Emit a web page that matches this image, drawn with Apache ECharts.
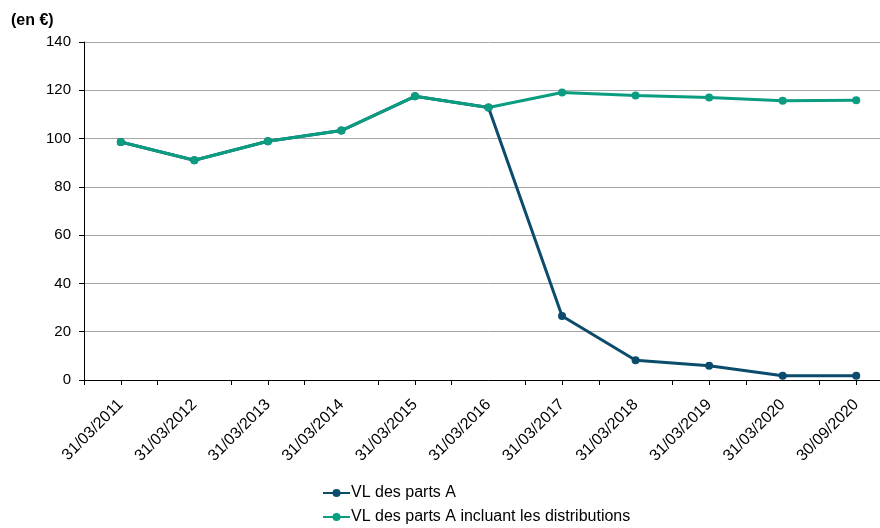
<!DOCTYPE html>
<html>
<head>
<meta charset="utf-8">
<script src="https://cdn.jsdelivr.net/npm/echarts@6/dist/echarts.min.js"></script>
<style>html,body{margin:0;padding:0;background:#fff;overflow:hidden}#c{width:893px;height:528px}</style>
</head>
<body>
<div id="c"></div>
<script>
const categories = ['31/03/2011','31/03/2012','31/03/2013','31/03/2014','31/03/2015','31/03/2016','31/03/2017','31/03/2018','31/03/2019','31/03/2020','30/09/2020'];
const vlA = [98.6, 91.0, 98.9, 103.3, 117.5, 112.9, 26.5, 8.2, 5.9, 1.8, 1.8];
const vlAdist = [98.6, 91.0, 98.9, 103.3, 117.5, 112.9, 119.1, 117.8, 117.0, 115.7, 115.9];
const yTicks = [0, 20, 40, 60, 80, 100, 120, 140];
const seriesNames = ['VL des parts A', 'VL des parts A incluant les distributions'];
const unitLabel = '(en €)';

const font = 'Liberation Sans, Arial, sans-serif';
const chart = echarts.init(document.getElementById('c'));
chart.setOption({
  animation: false,
  textStyle: { fontFamily: font },
  title: { text: unitLabel, left: 6, top: 8, textStyle: { fontFamily: font, fontSize: 16, fontWeight: 'bold', color: '#000' } },
  grid: { left: 84, right: 0, top: 42, bottom: 148, containLabel: false },
  xAxis: [{
    type: 'category', data: categories, boundaryGap: true,
    axisLine: { lineStyle: { color: '#000', width: 1 } },
    axisTick: { show: true, alignWithLabel: false, length: 5, lineStyle: { color: '#000' } },
    axisLabel: { rotate: 45, interval: 0, margin: 22, fontSize: 16, color: '#000', fontFamily: font },
    splitLine: { show: false }
  }, {
    type: 'category', data: categories, boundaryGap: true, position: 'bottom',
    axisLine: { show: false },
    axisTick: { show: true, alignWithLabel: true, length: 5, lineStyle: { color: '#000' } },
    axisLabel: { show: false },
    splitLine: { show: false }
  }],
  yAxis: {
    type: 'value', min: yTicks[0], max: yTicks[yTicks.length - 1], interval: 20,
    axisLine: { show: true, lineStyle: { color: '#000' } },
    axisTick: { show: true, inside: false, length: 5, lineStyle: { color: '#000' } },
    axisLabel: { margin: 13, fontSize: 15, color: '#000', fontFamily: font },
    splitLine: { show: true, lineStyle: { color: '#a6a6a6', width: 1 } }
  },
  legend: {
    orient: 'vertical', left: 322, top: 485, padding: 0, itemWidth: 27, itemHeight: 10, itemGap: 8,
    textStyle: { fontSize: 16, color: '#000', fontFamily: font, padding: [0, 0, 0, -4] },
    data: seriesNames
  },
  series: [{
    name: seriesNames[0], type: 'line', data: vlA,
    symbol: 'circle', symbolSize: 8, color: '#0b4b6b',
    lineStyle: { width: 3, color: '#0b4b6b' }, itemStyle: { color: '#0b4b6b' }
  }, {
    name: seriesNames[1], type: 'line', data: vlAdist,
    symbol: 'circle', symbolSize: 8, color: '#0a9d80',
    lineStyle: { width: 3, color: '#0a9d80' }, itemStyle: { color: '#0a9d80' }
  }]
});
</script>
</body>
</html>
